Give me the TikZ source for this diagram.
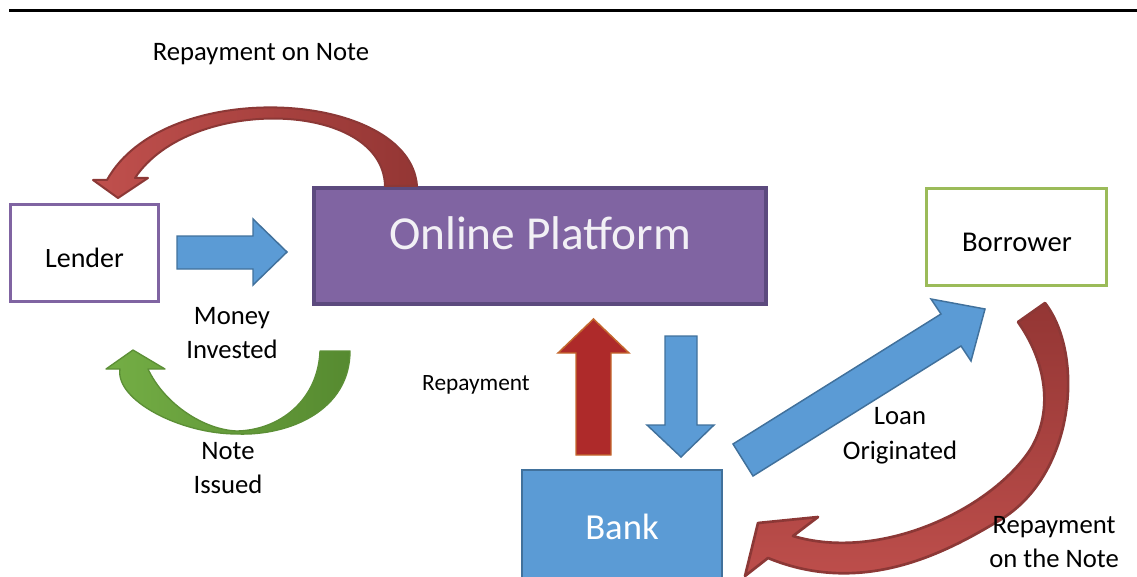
\documentclass[tikz,border=0pt]{standalone}
\usepackage{fontspec}
\setmainfont{Carlito}
\definecolor{purp}{HTML}{8064A2}
\definecolor{purpdark}{HTML}{5C4A7E}
\definecolor{grn}{HTML}{9BBB59}
\definecolor{blu}{HTML}{5B9BD5}
\definecolor{bludark}{HTML}{41719C}
\definecolor{redlt}{HTML}{C0504D}
\definecolor{reddk}{HTML}{943634}
\definecolor{redline}{HTML}{8C3836}
\definecolor{redup}{HTML}{AE2A2A}
\definecolor{orangeline}{HTML}{C4682E}
\definecolor{grnlt}{HTML}{74AE45}
\definecolor{grndk}{HTML}{568A30}
\definecolor{grnline}{HTML}{5C8F36}
\definecolor{paletext}{HTML}{F2F0F5}
\tikzset{
  lbl/.style={font=\fontsize{20}{26}\selectfont, align=center, inner sep=0pt},
  whitebox/.style={draw, fill=white, line width=2.25pt, inner sep=0pt},
  bluearrow/.style={fill=blu, draw=bludark, line width=1.1pt, line join=miter},
  redcurve/.style={draw=redline, line width=1.5pt, line join=round},
}
\begin{document}
\begin{tikzpicture}[x=0.75pt,y=-0.75pt]
\useasboundingbox (0,0) rectangle (1137,577);
% top rule
\coordinate (ruleL) at (9,11);
\coordinate (ruleR) at (1137,11);
\draw[line width=2.25pt] (ruleL) -- (ruleR);

% boxes
\node[whitebox, draw=purp, minimum width=111pt, minimum height=72.75pt] (lender) at (84.5,253) {};
\node[lbl, font=\fontsize{21}{26}\selectfont] (lenderT) at (84.5,258) {Lender};

\node[draw=purpdark, fill=purp, line width=3pt, minimum width=339pt, minimum height=87pt, inner sep=0pt] (plat) at (540,246) {};
\node[lbl, text=paletext, font=\fontsize{35.5}{40}\selectfont] (platT) at (540,233) {Online Platform};

\node[whitebox, draw=grn, minimum width=135pt, minimum height=72.75pt] (borrower) at (1016.5,237) {};
\node[lbl, font=\fontsize{21.5}{26}\selectfont] (borrowerT) at (1017,242) {Borrower};

\node[draw=bludark, fill=blu, line width=1.5pt, minimum width=150pt, minimum height=84pt, inner sep=0pt] (bank) at (622,526) {};
\node[lbl, text=white, font=\fontsize{27.5}{32}\selectfont] (bankT) at (622,527) {Bank};

% money invested arrow
\draw[bluearrow] (177,236)--(253,236)--(253,219)--(287,252)--(253,285)--(253,269)--(177,269)--cycle;

% repayment up arrow
\draw[fill=redup, draw=orangeline, line width=1.1pt] (576,455)--(576,353)--(558,353)--(593.5,319)--(629,353)--(611,353)--(611,455)--cycle;

% down arrow to bank
\draw[bluearrow] (665,336)--(697,336)--(697,425)--(714,425)--(681,457)--(647,425)--(665,425)--cycle;

% loan originated diagonal arrow
\draw[bluearrow] (733,444)--(941,314)--(931,299)--(985,309)--(971,361)--(961,346)--(753,476)--cycle;

% top curved red arrow (platform -> lender)
\draw[redcurve, left color=redlt, right color=reddk]
  (417,186) .. controls (410,90) and (165,75) .. (107,180)
  -- (93,180) -- (118,198) -- (148,178) -- (135,178)
  .. controls (190,95) and (383,100) .. (385,186) -- cycle;

% green curved arrow
\draw[draw=grnline, line width=1pt, line join=round, left color=grnlt, right color=grndk]
  (350,351) .. controls (350,410) and (290,436) .. (237,434)
  .. controls (180,434) and (115,400) .. (120,369)
  -- (106,369) -- (133,350) -- (165,369) -- (148,369)
  .. controls (165,405) and (205,430) .. (237,431)
  .. controls (280,430) and (318,400) .. (320,351) -- cycle;

% bottom-right curved red arrow (borrower -> bank)
\draw[redcurve, line width=2pt, top color=reddk, bottom color=redlt]
  (1045,303) .. controls (1085,355) and (1075,475) .. (1000,520)
  .. controls (950,550) and (865,598) .. (768,558)
  -- (745,576) -- (758,523) -- (818,517) -- (793,536)
  .. controls (880,562) and (990,510) .. (1030,450)
  .. controls (1055,410) and (1045,360) .. (1018,322) -- cycle;

% labels
\node[lbl] (l1) at (261,54) {Repayment on Note};
\node[lbl] (l2) at (232,333) {Money\\Invested};
\node[lbl] (l3) at (228,468) {Note\\Issued};
\node[lbl, font=\fontsize{17.5}{22}\selectfont] (l4) at (476,385) {Repayment};
\node[lbl] (l5) at (900,436) {Loan\\Originated};
\node[lbl] (l6) at (1054,542) {Repayment\\on the Note};
\end{tikzpicture}
\end{document}
